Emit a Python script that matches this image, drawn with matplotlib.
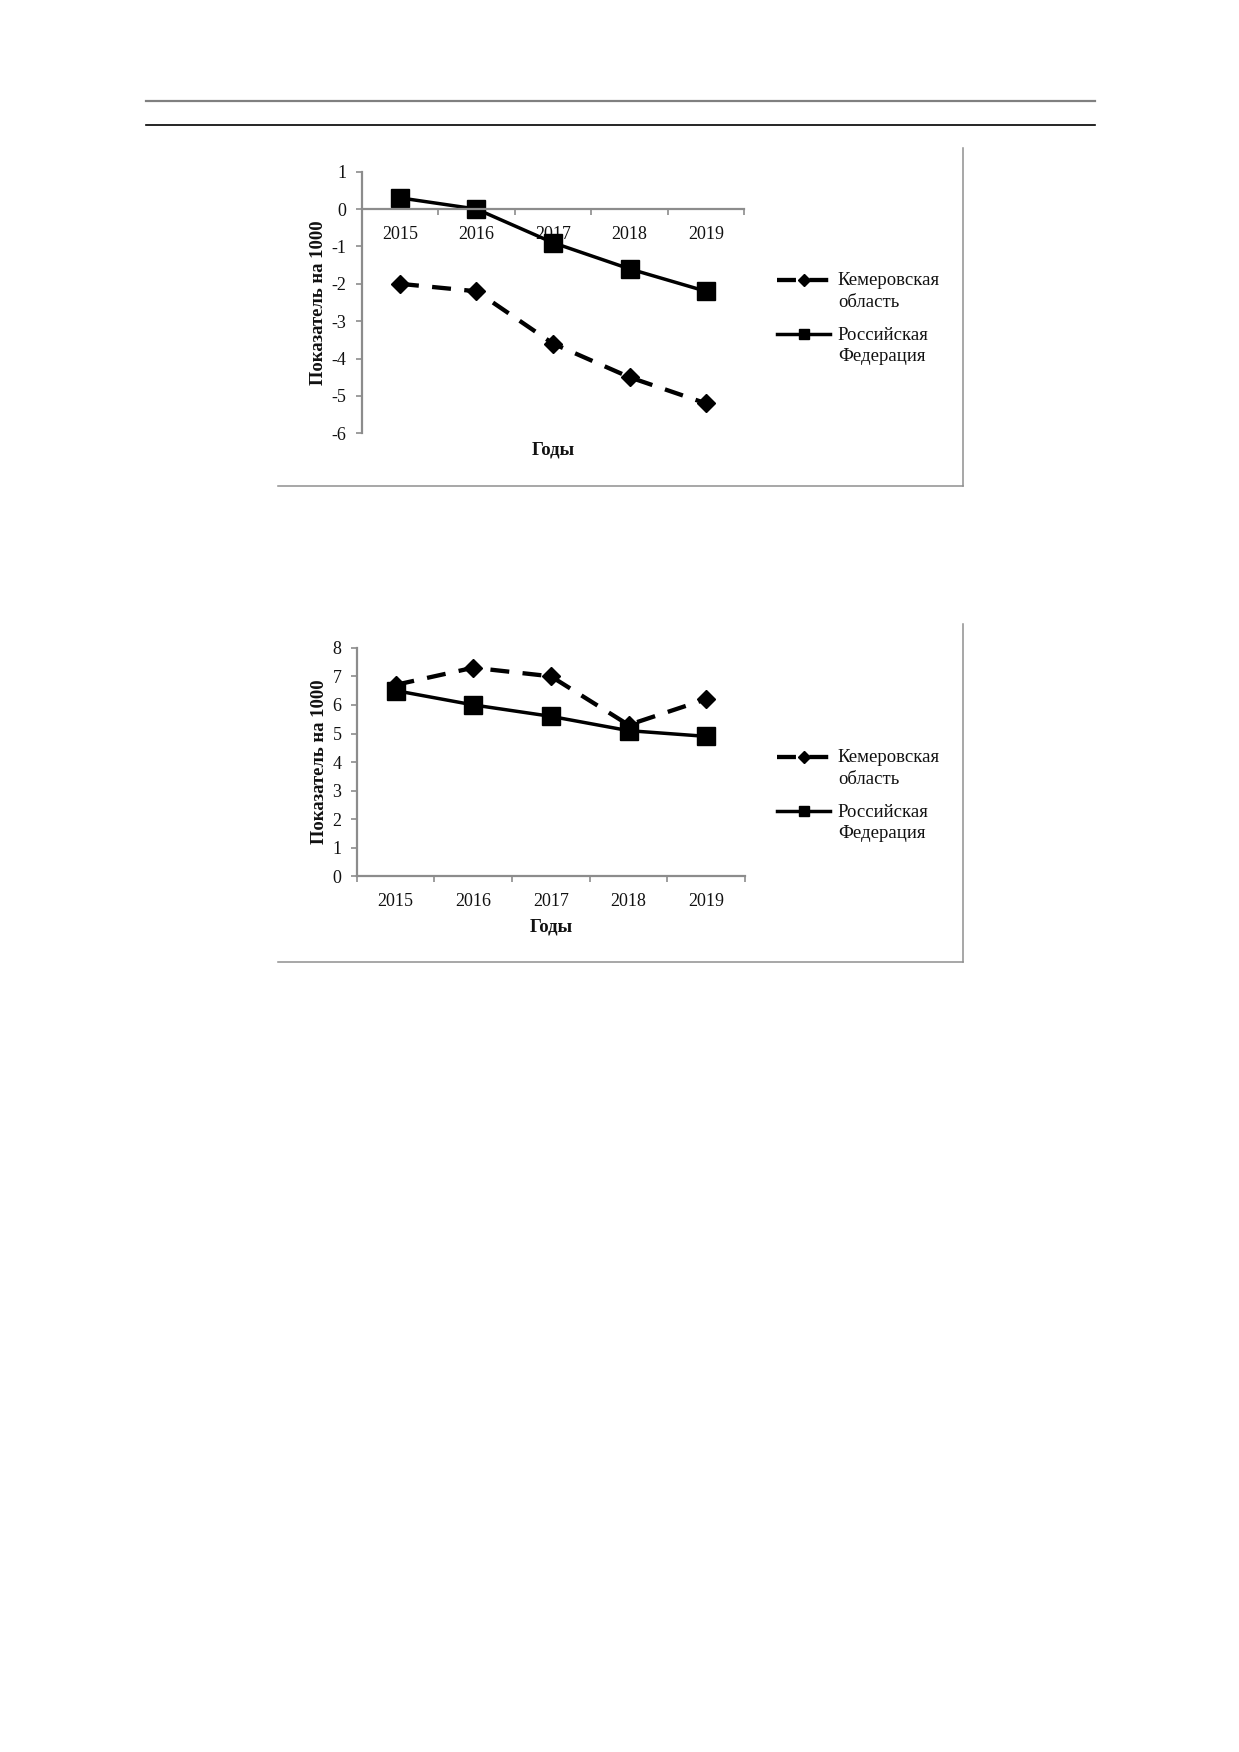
import matplotlib
matplotlib.use("Agg")
import matplotlib.pyplot as plt
from matplotlib.lines import Line2D
from matplotlib.legend_handler import HandlerLine2D
from matplotlib.transforms import Affine2D
from matplotlib.ticker import FixedLocator, NullFormatter, FixedFormatter

# ---------------- data ----------------
years = ["2015", "2016", "2017", "2018", "2019"]
kem_natural = [-2.0, -2.2, -3.6, -4.5, -5.2]
rf_natural = [0.3, 0.0, -0.9, -1.6, -2.2]
kem_marriage = [6.7, 7.3, 7.0, 5.3, 6.2]
rf_marriage = [6.5, 6.0, 5.6, 5.1, 4.9]
series_names = ["Кемеровская\nобласть", "Российская\nФедерация"]
y_label = "Показатель на 1000"
x_label = "Годы"
natural_ticks = [1, 0, -1, -2, -3, -4, -5, -6]
marriage_ticks = [0, 1, 2, 3, 4, 5, 6, 7, 8]

plt.rcParams["font.family"] = ["Liberation Serif", "DejaVu Serif"]
plt.rcParams["axes.unicode_minus"] = False

W, H = 1239, 1752
fig = plt.figure(figsize=(W / 100, H / 100), dpi=100)

AX_GRAY = "#8c8c8c"
TXT = "#111111"


def fx(px):
    return px / W


def fy(py):
    return 1 - py / H


class TopLineHandler(HandlerLine2D):
    def __init__(self, shift, **kw):
        super().__init__(**kw)
        self.shift = shift

    def create_artists(self, legend, orig_handle, xdescent, ydescent,
                       width, height, fontsize, trans):
        arts = super().create_artists(legend, orig_handle, xdescent, ydescent,
                                      width, height, fontsize, trans)
        t = Affine2D().translate(0, self.shift) + trans
        for a in arts:
            a.set_transform(t)
        return arts


# page rules
fig.add_artist(Line2D([fx(146), fx(1095)], [fy(101), fy(101)], color="#808080", lw=1.6))
fig.add_artist(Line2D([fx(146), fx(1095)], [fy(125), fy(125)], color="#000000", lw=1.2))


def frame(top, bottom):
    fig.add_artist(Line2D([fx(278), fx(963)], [fy(bottom), fy(bottom)], color="#8f8f8f", lw=1.1))
    fig.add_artist(Line2D([fx(963), fx(963)], [fy(top), fy(bottom)], color="#8f8f8f", lw=1.1))


def make_chart(rect, kem, rf, ylim, yticks, zero_spine, ylab_x, xlab_y, leg_anchor):
    ax = fig.add_axes(rect)
    x = list(range(1, len(years) + 1))
    l1, = ax.plot(x, kem, color="black", lw=3.1, linestyle=(0, (4.4, 3.1)),
                  marker="D", markersize=9.5, markerfacecolor="black",
                  markeredgecolor="black", label=series_names[0])
    l2, = ax.plot(x, rf, color="black", lw=2.5, linestyle="-",
                  marker="s", markersize=12.5, markerfacecolor="black",
                  markeredgecolor="black", label=series_names[1])
    ax.set_xlim(0.5, len(years) + 0.5)
    ax.set_ylim(*ylim)
    for s in ["top", "right"]:
        ax.spines[s].set_visible(False)
    for s in ["left", "bottom"]:
        ax.spines[s].set_color(AX_GRAY)
        ax.spines[s].set_linewidth(1.6)
    if zero_spine:
        ax.spines["bottom"].set_position(("data", 0))
    ax.set_yticks(yticks)
    ax.set_yticklabels([str(v) for v in yticks])
    ax.xaxis.set_major_locator(FixedLocator([i + 0.5 for i in range(0, len(years) + 1)]))
    ax.xaxis.set_major_formatter(NullFormatter())
    ax.xaxis.set_minor_locator(FixedLocator(x))
    ax.xaxis.set_minor_formatter(FixedFormatter(years))
    ax.tick_params(axis="x", which="major", direction="out", length=4, width=1.2,
                   color=AX_GRAY)
    ax.tick_params(axis="x", which="minor", length=0, pad=12, labelsize=13, labelcolor=TXT)
    ax.tick_params(axis="y", direction="out", length=4, width=1.2, color=AX_GRAY,
                   pad=7, labelsize=13, labelcolor=TXT)
    ax.set_ylabel(y_label, fontsize=13.4, fontweight="bold", color=TXT, va="center")
    ax.yaxis.set_label_coords(ylab_x, 0.5)
    ax.set_xlabel(x_label, fontsize=13.5, fontweight="bold", color=TXT, va="center")
    ax.xaxis.set_label_coords(0.5, xlab_y)
    ax.patch.set_alpha(0)
    fs = 13.5
    leg = ax.legend(handles=[l1, l2], loc="upper left",
                    bbox_to_anchor=leg_anchor, bbox_transform=fig.transFigure,
                    frameon=False, fontsize=fs, borderpad=0, borderaxespad=0,
                    handlelength=2.85, handletextpad=0.4, labelspacing=0.85,
                    markerscale=0.62, numpoints=1,
                    handler_map={l1: TopLineHandler(8.3), l2: TopLineHandler(8.3)})
    for t in leg.get_texts():
        t.set_linespacing(1.32)
        t.set_color(TXT)
    return ax


# chart 1: natural increase
frame(148, 485.7)
ax1 = make_chart([fx(361.7), fy(433.3), fx(744.3) - fx(361.7), (433.3 - 171.7) / H],
                 kem_natural, rf_natural, (-6, 1), natural_ticks, True,
                 (318.5 - 361.7) / 382.6, (433.3 - 450) / 261.6, (fx(777), fy(272.5)))

# chart 2: marriage rate
frame(624, 961.7)
ax2 = make_chart([fx(356.7), fy(876.5), fx(745) - fx(356.7), (876.5 - 647.7) / H],
                 kem_marriage, rf_marriage, (0, 8), marriage_ticks, False,
                 (319 - 356.7) / 388.3, (876.5 - 926.7) / 228.8, (fx(777), fy(749.5)))

fig.savefig("out.png", dpi=100)
